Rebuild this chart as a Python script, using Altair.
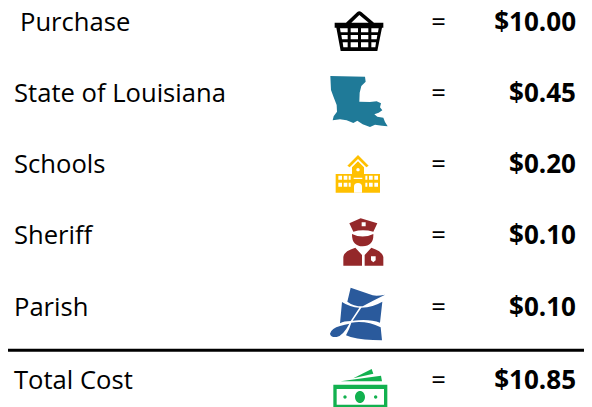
import altair as alt
import pandas as pd

# ---- values ----
labels = ["Purchase", "State of Louisiana", "Schools", "Sheriff", "Parish", "Total Cost"]
amounts = ["$10.00", "$0.45", "$0.20", "$0.10", "$0.10", "$10.85"]

# ---- layout (page pixels minus the 8px page margin) ----
W, H = 576, 399
row_y = [23, 94, 165, 236, 308, 381]
label_x = [12, 6, 6, 6, 6, 6]
EQ_X, AMT_X, ICON_X = 430.5, 568, 312
icon_top = [-8, -8, 127, 127, 264, 264]
RULE_Y = 342.2

# ---- icon glyphs: path units are 1/3 px, origin at the icon's anchor ----
BASKET = "M44,68H78L112,36Q118,31 124,36L162,68H190V83H186L172,153H62L49,83H44ZM94,68H146L118,45Z"
BASKET_H = ("M60,85H83V97H62ZM92,85H114V97H92ZM123,85H145V97H123ZM154,85H176L174,97H154Z"
            "M64,105H83V118H66ZM92,105H114V118H92ZM123,105H145V118H123ZM154,105H172L170,118H154Z"
            "M68,127H83V142H70ZM92,127H114V142H92ZM123,127H145V142H123ZM154,127H168L166,142H154Z")
LA = ("M31,228L135,230L137,245L124,258L119,278L118,305L150,306L170,304L183,310L180,322L187,331"
      "L176,338L163,343L172,350L190,353L195,366L203,379L186,377L165,374L150,381L128,373L112,362"
      "L100,369L80,361L60,358L38,361L41,349L51,335L50,315L41,292L33,270Z")
SCHOOL = ("M82,92L114,60L146,92L139,97L114,72L89,97Z"
          "M96,97L114,79L132,97V117H180V173H47V117H96Z")
SCHOOL_H = ("M55,122H66V134H55ZM71,122H82V134H71ZM86,122H92V134H86Z"
            "M55,143H66V155H55ZM71,143H82V155H71ZM86,143H92V155H86Z"
            "M136,122H142V134H136ZM147,122H158V134H147ZM163,122H174V134H163Z"
            "M136,143H142V155H136ZM147,143H158V155H147ZM163,143H174V155H163Z"
            "M101,128H127V132H101Z"
            "M102,173V155Q102,144 114,144Q126,144 126,155V173Z"
            "M109,104A5,5 0 1,1 119,104A5,5 0 1,1 109,104Z")
SHERIFF = ("M88,265L122,250L172,265L160,290Q128,282 100,290Z"
           "M96,297Q128,312 160,297Q162,333 128,334Q95,333 96,297Z"
           "M70,392V366Q72,348 106,338L126,360V392Z"
           "M134,392V360L154,338Q186,348 190,366V392Z")
SHERIFF_H = "M125,262H137V274H125ZM153,364H167V376L160,382L153,376Z"
PARISH = ("M92,47L158,70Q172,73 195,68Q160,85 128,103Q100,103 82,89Z"
          "M66,90Q90,106 118,107L92,147Q72,147 60,154Z"
          "M124,107Q160,105 187,89L180,152Q150,140 98,146Z"
          "M30,185Q35,168 60,162Q75,157 88,155Q70,190 50,195Q32,197 30,185Z"
          "M94,152Q140,145 182,166L186,205Q130,205 92,195L78,190Q88,172 94,152Z")
MONEY = ("M40,338H202V407H40Z"
         "M62,328L183,311L186,328Z"
         "M100,319L155,291L160,305Z")
MONEY_H = "M50,351H192V398H50Z"
MONEY_D = ("M105,375A15,18 0 1,1 135,375A15,18 0 1,1 105,375Z"
           "M70,375A5,5 0 1,1 80,375A5,5 0 1,1 70,375Z"
           "M162,375A5,5 0 1,1 172,375A5,5 0 1,1 162,375Z")

icon_parts = [
    (0, BASKET, "#000000"), (0, BASKET_H, "#ffffff"),
    (1, LA, "#1f7a98"),
    (2, SCHOOL, "#ffc000"), (2, SCHOOL_H, "#ffffff"),
    (3, SHERIFF, "#94282a"), (3, SHERIFF_H, "#ffffff"),
    (4, PARISH, "#2a5a9c"),
    (5, MONEY, "#12b14f"), (5, MONEY_H, "#ffffff"), (5, MONEY_D, "#12b14f"),
]

rows = pd.DataFrame({
    "label": labels, "amount": amounts, "eq": ["="] * 6,
    "y": row_y, "lx": label_x, "ex": [EQ_X] * 6, "ax": [AMT_X] * 6,
})
icons = pd.DataFrame({
    "x": [ICON_X] * len(icon_parts),
    "y": [icon_top[p[0]] for p in icon_parts],
    "path": [p[1] for p in icon_parts],
    "fill": [p[2] for p in icon_parts],
    "order": list(range(len(icon_parts))),
})
rule = pd.DataFrame({"x": [0], "x2": [W], "y": [RULE_Y]})

xs = alt.Scale(domain=[0, W], range=[0, W])
ys = alt.Scale(domain=[0, H], range=[0, H])
FONT = "Open Sans"
FS = 25.6

base = alt.Chart(rows)
label_t = base.mark_text(align="left", baseline="alphabetic", font=FONT, fontSize=FS, color="#000000").encode(
    x=alt.X("lx:Q", scale=xs, axis=None), y=alt.Y("y:Q", scale=ys, axis=None), text="label:N")
eq_t = base.mark_text(align="center", baseline="alphabetic", font=FONT, fontSize=FS, color="#000000").encode(
    x=alt.X("ex:Q", scale=xs, axis=None), y=alt.Y("y:Q", scale=ys, axis=None), text="eq:N")
amt_t = base.mark_text(align="right", baseline="alphabetic", font=FONT, fontSize=26, fontWeight="bold", color="#000000").encode(
    x=alt.X("ax:Q", scale=xs, axis=None), y=alt.Y("y:Q", scale=ys, axis=None), text="amount:N")
glyphs = alt.Chart(icons).mark_point(filled=True, size=4 / 9, opacity=1, strokeWidth=0, clip=True).encode(
    x=alt.X("x:Q", scale=xs, axis=None), y=alt.Y("y:Q", scale=ys, axis=None),
    shape=alt.Shape("path:N", scale=None), color=alt.Color("fill:N", scale=None),
    order="order:Q")
line = alt.Chart(rule).mark_rule(color="#000000", strokeWidth=3).encode(
    x=alt.X("x:Q", scale=xs, axis=None), x2="x2:Q", y=alt.Y("y:Q", scale=ys, axis=None))

chart = (alt.layer(label_t, eq_t, amt_t, glyphs, line)
         .properties(width=W, height=H, padding=0, background="white",
                     autosize=alt.AutoSizeParams(type="none"))
         .configure_view(stroke=None))
chart.save("out.html", embed_options={"renderer": "svg", "actions": False})
